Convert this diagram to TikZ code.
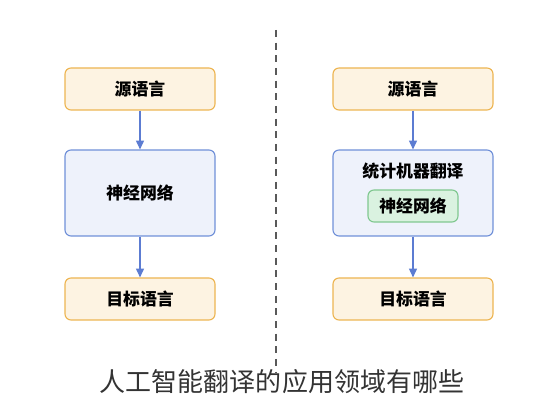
\documentclass[tikz,border=0pt]{standalone}
\usepackage{fontspec}
\setmainfont{Noto Sans CJK SC}
\usetikzlibrary{arrows.meta}
\definecolor{langfill}{HTML}{FDF3E2}
\definecolor{langline}{HTML}{EDB552}
\definecolor{netfill}{HTML}{EEF2FB}
\definecolor{netline}{HTML}{7090D8}
\definecolor{nnfill}{HTML}{DAF2E0}
\definecolor{nnline}{HTML}{80C890}
\definecolor{arrowblue}{HTML}{5C7CD2}
\tikzset{
  lang/.style={draw=langline,fill=langfill,thick,rounded corners=1.5mm,font=\fontsize{12}{14}\selectfont\bfseries},
  net/.style={draw=netline,fill=netfill,thick,rounded corners=1.5mm,font=\fontsize{12}{14}\selectfont\bfseries},
  nn/.style={draw=nnline,fill=nnfill,thick,rounded corners=1.5mm,font=\fontsize{12}{14}\selectfont\bfseries},
  flow/.style={-{Triangle[length=2.2mm,width=2mm]},thick,arrowblue}
}
\begin{document}
\begin{tikzpicture}
\useasboundingbox (0,0) rectangle (14,10);
% left column
\node[lang,minimum width=3.75cm,minimum height=1.05cm] (LS) at (3.5,7.775) {源语言};
\node[net,minimum width=3.75cm,minimum height=2.15cm] (LN) at (3.5,5.175) {神经网络};
\node[lang,minimum width=3.75cm,minimum height=1.05cm] (LT) at (3.5,2.525) {目标语言};
\draw[flow] (LS)--(LN);
\draw[flow] (LN)--(LT);
% divider
\coordinate (D1) at (6.9,9.25);
\coordinate (D2) at (6.9,0.7);
\draw[gray!70!black,line width=1.2pt,dash pattern=on 5pt off 4pt] (D1)--(D2);
% right column
\node[lang,minimum width=4cm,minimum height=1.05cm] (RS) at (10.325,7.775) {源语言};
\node[net,minimum width=4cm,minimum height=2.15cm] (RN) at (10.325,5.175) {};
\node[font=\fontsize{12}{14}\selectfont\bfseries] (RSM) at (10.325,5.72) {统计机器翻译};
\node[nn,minimum width=2.25cm,minimum height=0.8cm] (RNN) at (10.325,4.85) {神经网络};
\node[lang,minimum width=4cm,minimum height=1.05cm] (RT) at (10.325,2.525) {目标语言};
\draw[flow] (RS)--(RN);
\draw[flow] (RN)--(RT);
% caption
\node[font=\fontsize{18.5}{20}\selectfont,text=black!80] (CAP) at (7.05,0.45) {人工智能翻译的应用领域有哪些};
\end{tikzpicture}
\end{document}
